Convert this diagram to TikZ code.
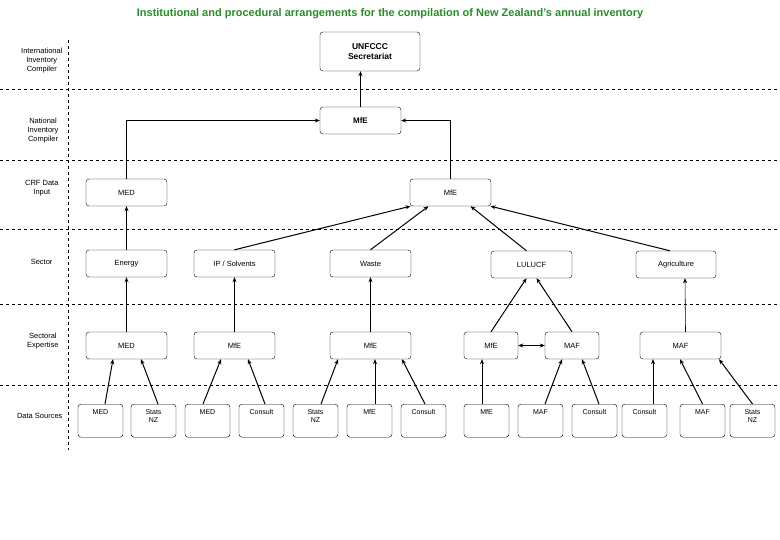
\documentclass[tikz,border=0pt]{standalone}
\usepackage{fontspec}
\setmainfont{Liberation Sans}
\usetikzlibrary{arrows.meta}
\definecolor{ttl}{RGB}{40,140,40}
\begin{document}
\begin{tikzpicture}[x=1pt,y=-1pt,
  bx/.style={draw,rounded corners=3pt,font=\fontsize{7.5}{9}\selectfont,align=center,inner sep=0pt},
  lab/.style={font=\fontsize{7.5}{9}\selectfont,align=center,anchor=east},
  ar/.style={-{Stealth[length=5pt,width=4pt]},line width=1pt},
  tar/.style={-{Stealth[length=5pt,width=4pt]},line width=0.6pt},
  dl/.style={dashed,line width=0.6pt}]
\useasboundingbox (0,0) rectangle (780,540);
\node[font=\bfseries\fontsize{11}{13}\selectfont,text=ttl] (title) at (390,14) {Institutional and procedural arrangements for the compilation of New Zealand’s annual inventory};
\foreach \y in {89,160,229,304,385} \draw[dl] (0,\y) -- (780,\y);
\draw[dl] (68,40) -- (68,450);
\node[lab] (l1) at (66,61) {International\\Inventory\\Compiler};
\node[lab] (l2) at (62,131) {National\\Inventory\\Compiler};
\node[lab] (l3) at (62,188) {CRF Data\\Input};
\node[lab] (l4) at (56,262) {Sector};
\node[lab] (l5) at (62,341) {Sectoral\\Expertise};
\node[lab] (l6) at (66,416) {Data Sources};
\newcommand{\bxat}[6]{\node[bx,minimum width=#3,minimum height=#4,#6] (#1) at (#2) {#5};}
\bxat{un}{370,51.5}{100pt}{39pt}{UNFCCC\\Secretariat}{font=\bfseries\fontsize{8.5}{10}\selectfont}
\bxat{mfet}{360.5,120.5}{81pt}{27pt}{MfE}{font=\bfseries\fontsize{8}{9}\selectfont}
\bxat{medc}{126.5,192.5}{81pt}{27pt}{MED}{}
\bxat{mfec}{450.5,192.5}{81pt}{27pt}{MfE}{}
\bxat{en}{126.5,263.5}{81pt}{27pt}{Energy}{}
\bxat{ip}{234.5,263.5}{81pt}{27pt}{IP / Solvents}{}
\bxat{wa}{370.5,263.5}{81pt}{27pt}{Waste}{}
\bxat{lu}{531.5,264.5}{81pt}{27pt}{LULUCF}{}
\bxat{ag}{676,264.5}{80pt}{27pt}{Agriculture}{}
\bxat{s1}{126.5,345.5}{81pt}{27pt}{MED}{}
\bxat{s2}{234.5,345.5}{81pt}{27pt}{MfE}{}
\bxat{s3}{370.5,345.5}{81pt}{27pt}{MfE}{}
\bxat{s4}{491,345.5}{54pt}{27pt}{MfE}{}
\bxat{s5}{572,345.5}{54pt}{27pt}{MAF}{}
\bxat{s6}{680.5,345.5}{81pt}{27pt}{MAF}{}
\newcommand{\dsat}[3]{\node[bx,minimum width=45pt,minimum height=33pt,anchor=north,font=\fontsize{7}{8}\selectfont] (#1) at (#2,404) {\raisebox{0pt}[8pt][0pt]{\parbox[t]{40pt}{\centering #3}}\\[12pt]};}
\dsat{d1}{100.5}{MED}
\dsat{d2}{153.5}{Stats\\NZ}
\dsat{d3}{207.5}{MED}
\dsat{d4}{261.5}{Consult}
\dsat{d5}{315.5}{Stats\\NZ}
\dsat{d6}{369.5}{MfE}
\dsat{d7}{423.5}{Consult}
\dsat{d8}{486.5}{MfE}
\dsat{d9}{540.5}{MAF}
\dsat{d10}{594.5}{Consult}
\dsat{d11}{644.5}{Consult}
\dsat{d12}{702.5}{MAF}
\dsat{d13}{752.5}{Stats\\NZ}
% top connectors
\draw[ar] (medc.north) |- (mfet.west);
\draw[ar] (mfec.north) |- (mfet.east);
\draw[ar] (mfet.north) -- (mfet.north |- un.south);
\draw[ar] (en.north) -- (medc.south);
\draw[ar] (ip.north) -- ([xshift=-40pt]mfec.south);
\draw[ar] (wa.north) -- ([xshift=-22pt]mfec.south);
\draw[ar] ([xshift=-5pt]lu.north) -- ([xshift=20pt]mfec.south);
\draw[ar] ([xshift=-6pt]ag.north) -- ([xshift=40pt]mfec.south);
% sectoral to sector
\draw[ar] (s1.north) -- (en.south);
\draw[ar] (s2.north) -- (ip.south);
\draw[ar] (s3.north) -- (wa.south);
\draw[ar] (s4.north) -- ([xshift=-5pt]lu.south);
\draw[ar] (s5.north) -- ([xshift=5pt]lu.south);
\draw[tar,{Stealth[length=5pt,width=4pt]}-{Stealth[length=5pt,width=4pt]}] (s4.east) -- (s5.west);
\draw[tar] ([xshift=5pt]s6.north) -- ([xshift=9pt]ag.south);
% data sources
\draw[ar] ([xshift=4.5pt]d1.north) -- ([xshift=-13.5pt]s1.south);
\draw[ar] ([xshift=4.5pt]d2.north) -- ([xshift=14.5pt]s1.south);
\draw[ar] ([xshift=-4.5pt]d3.north) -- ([xshift=-13.5pt]s2.south);
\draw[ar] ([xshift=3.5pt]d4.north) -- ([xshift=13.5pt]s2.south);
\draw[ar] ([xshift=5.5pt]d5.north) -- ([xshift=-32.5pt]s3.south);
\draw[tar] ([xshift=5.5pt]d6.north) -- ([xshift=4.5pt]s3.south);
\draw[ar] ([xshift=1.5pt]d7.north) -- ([xshift=31.5pt]s3.south);
\draw[tar] ([xshift=-4.5pt]d8.north) -- ([xshift=-9pt]s4.south);
\draw[ar] ([xshift=4.5pt]d9.north) -- ([xshift=-10pt]s5.south);
\draw[ar] ([xshift=4.5pt]d10.north) -- ([xshift=10pt]s5.south);
\draw[tar] ([xshift=8.5pt]d11.north) -- ([xshift=-27.5pt]s6.south);
\draw[ar] (d12.north) -- ([xshift=-0.5pt]s6.south);
\draw[ar] (d13.north) -- ([xshift=38.5pt]s6.south);
\end{tikzpicture}
\end{document}
